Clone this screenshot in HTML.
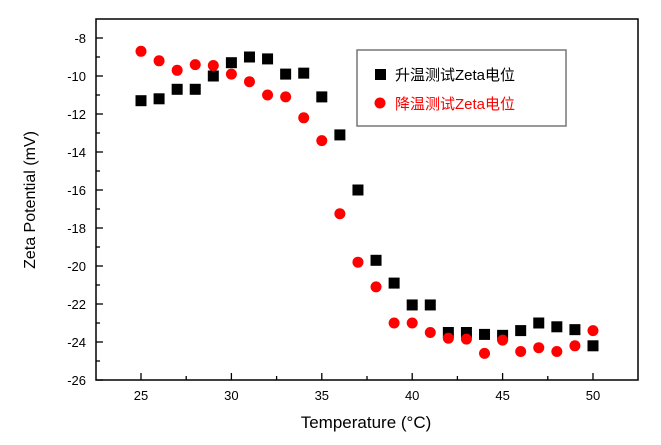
<!DOCTYPE html>
<html><head><meta charset="utf-8"><style>body{margin:0;background:#fff}</style></head><body>
<svg id="s" width="661" height="440" xmlns="http://www.w3.org/2000/svg" font-family="Liberation Sans, Arial, sans-serif">
<rect x="96" y="19" width="542" height="361" fill="none" stroke="#000" stroke-width="1.5"/>
<g id="ax" stroke="#000" stroke-width="1.3"></g>
<g id="lab" font-size="13" fill="#000"></g>
<g id="pts"></g>
<text x="35" y="200" font-size="16" text-anchor="middle" transform="rotate(-90 35 200)">Zeta Potential (mV)</text>
<text x="366" y="428" font-size="17" text-anchor="middle">Temperature (°C)</text>
<rect x="357" y="50" width="209" height="76" fill="#fff" stroke="#777" stroke-width="1.5"/>
<rect x="375" y="69" width="11" height="11" fill="#000"/>
<circle cx="380" cy="103" r="5.5" fill="#f00"/>
<text x="395" y="80" font-size="15" font-family="Liberation Sans, Noto Sans CJK SC, sans-serif">升温测试Zeta电位</text>
<text x="395" y="109" font-size="15" fill="#f00" font-family="Liberation Sans, Noto Sans CJK SC, sans-serif">降温测试Zeta电位</text>
</svg>
<script>
const ns="http://www.w3.org/2000/svg";
const X=t=>141+(t-25)*18.08, Y=v=>380-(v+26)*19;
function el(p,n,a,txt){const e=document.createElementNS(ns,n);for(const k in a)e.setAttribute(k,a[k]);if(txt!=null)e.textContent=txt;document.getElementById(p).appendChild(e);}
for(let v=-26;v<=-8;v++){const y=Y(v);const maj=v%2==0;el('ax','line',{x1:96,x2:96+(maj?7:4),y1:y,y2:y});if(maj)el('lab','text',{x:86,y:y+5,'text-anchor':'end'},String(v).replace('-','-'));}
for(let t=25;t<=50;t+=2.5){const x=X(t);const maj=t%5==0;el('ax','line',{x1:x,x2:x,y1:380,y2:380-(maj?7:4)});if(maj)el('lab','text',{x:x,y:400,'text-anchor':'middle'},t);}
const b=[-11.3,-11.2,-10.7,-10.7,-10.0,-9.3,-9.0,-9.1,-9.9,-9.85,-11.1,-13.1,-16.0,-19.7,-20.9,-22.05,-22.05,-23.5,-23.5,-23.6,-23.65,-23.4,-23.0,-23.2,-23.35,-24.2];
const r=[-8.7,-9.2,-9.7,-9.4,-9.45,-9.9,-10.3,-11.0,-11.1,-12.2,-13.4,-17.25,-19.8,-21.1,-23.0,-23.0,-23.5,-23.8,-23.85,-24.6,-23.9,-24.5,-24.3,-24.5,-24.2,-23.4];
b.forEach((v,i)=>el('pts','rect',{x:X(25+i)-5.5,y:Y(v)-5.5,width:11,height:11,fill:'#000'}));
r.forEach((v,i)=>el('pts','circle',{cx:X(25+i),cy:Y(v),r:5.5,fill:'#f00'}));
</script>
</body></html>
